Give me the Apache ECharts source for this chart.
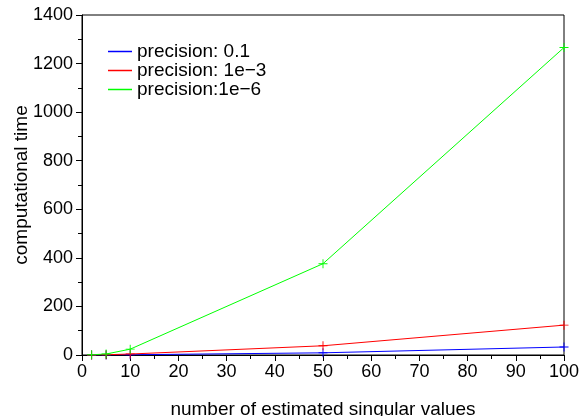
<!DOCTYPE html>
<html>
<head>
<meta charset="utf-8">
<script src="https://cdn.jsdelivr.net/npm/echarts@6/dist/echarts.min.js"></script>
<style>
  html, body { margin: 0; padding: 0; background: #fff; }
  #chart { width: 580px; height: 416px; }
</style>
</head>
<body>
<div id="chart"></div>
<script>
const xValues = [2, 5, 10, 50, 100]
const precision01 = [0.2, 0.5, 1, 9, 33]
const precision1e3 = [0.3, 1, 4, 38, 123]
const precision1e6 = [1, 4, 24, 376, 1266]
const seriesNames = ['precision: 0.1', 'precision: 1e\u22123', 'precision:1e\u22126']
const colors = ['#0000ff', '#ff0000', '#00ff00']

const plus = 'path://M4.5,0h1v4.5h4.5v1h-4.5v4.5h-1v-4.5h-4.5v-1h4.5z'
const font = 'Liberation Sans, Arial, sans-serif'

const pairs = ys => xValues.map((x, i) => [x, ys[i]])

const chart = echarts.init(document.getElementById('chart'))
chart.setOption({
  animation: false,
  color: colors,
  textStyle: { fontFamily: font, color: '#000' },
  grid: {
    left: 82, right: 16, top: 15, bottom: 61,
    containLabel: false, outerBoundsMode: 'none',
    show: true, borderColor: '#000', borderWidth: 1
  },
  legend: {
    left: 108, top: 42, padding: 0, orient: 'vertical', itemGap: 0,
    icon: 'rect', itemWidth: 24, itemHeight: 1.5,
    textStyle: { fontSize: 19, lineHeight: 17, color: '#000', fontFamily: font },
    data: seriesNames.map((n, i) => ({ name: n, itemStyle: { color: colors[i] } }))
  },
  xAxis: {
    type: 'value', min: 0, max: 100, interval: 10,
    name: 'number of estimated singular values', nameLocation: 'middle', nameGap: 45,
    nameMoveOverlap: false,
    nameTextStyle: { fontSize: 19, color: '#000' },
    axisLine: { lineStyle: { color: '#000' } },
    axisTick: { length: 6, lineStyle: { color: '#000' } },
    minorTick: { show: true, splitNumber: 2, length: 4, lineStyle: { color: '#000' } },
    axisLabel: { fontSize: 18, color: '#000', margin: 8 },
    splitLine: { show: false }
  },
  yAxis: {
    type: 'value', min: 0, max: 1400, interval: 200,
    name: 'computational time', nameLocation: 'middle', nameGap: 51,
    nameMoveOverlap: false,
    nameTextStyle: { fontSize: 19, color: '#000' },
    axisLine: { show: true, lineStyle: { color: '#000' } },
    axisTick: { show: true, length: 6, lineStyle: { color: '#000' } },
    minorTick: { show: true, splitNumber: 2, length: 4, lineStyle: { color: '#000' } },
    axisLabel: { fontSize: 18, color: '#000', margin: 9, formatter: v => String(v) },
    splitLine: { show: false }
  },
  series: [precision01, precision1e3, precision1e6].map((ys, i) => ({
    name: seriesNames[i],
    type: 'line',
    data: pairs(ys),
    symbol: plus,
    symbolSize: 9,
    showSymbol: true,
    itemStyle: { color: colors[i] },
    lineStyle: { color: colors[i], width: 1 }
  }))
})
</script>
</body>
</html>
